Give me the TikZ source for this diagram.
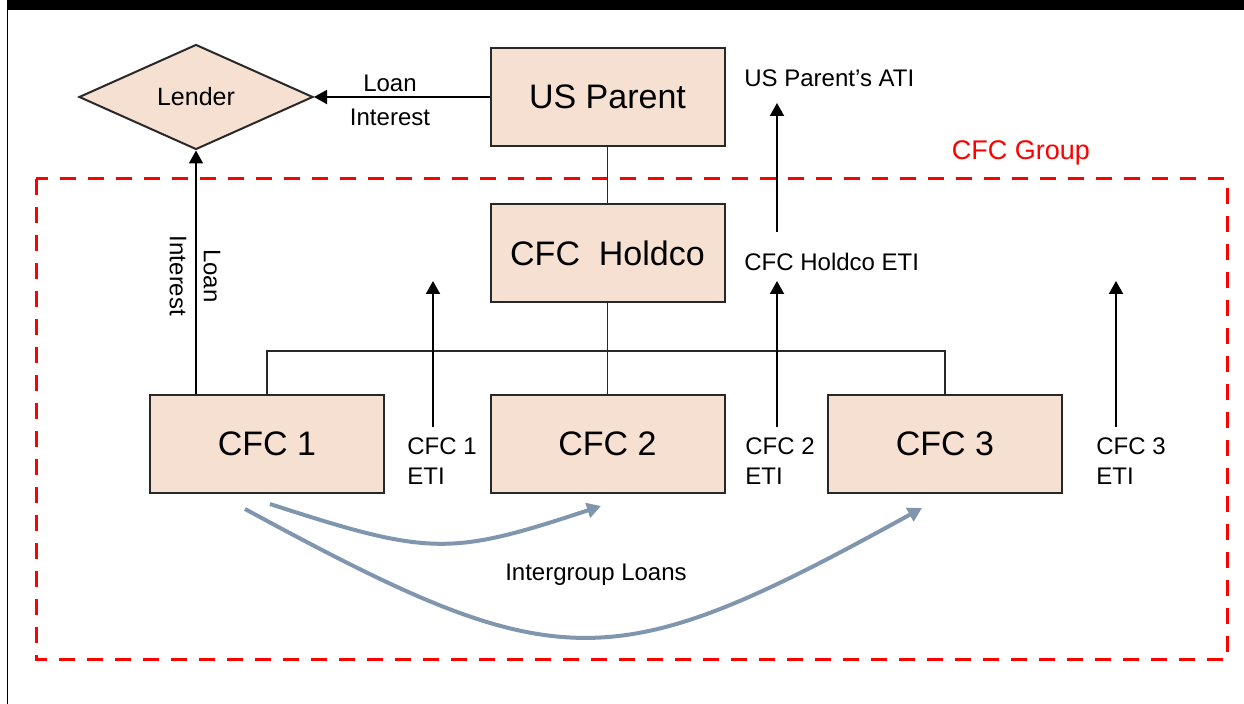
\documentclass[tikz,border=0pt]{standalone}
\usepackage{fontspec}
\setmainfont{Liberation Sans}
\usetikzlibrary{shapes.geometric,arrows.meta}
\definecolor{boxfill}{RGB}{246,224,209}
\definecolor{loanblue}{RGB}{127,150,174}
\definecolor{boxline}{RGB}{40,40,40}
\begin{document}
\begin{tikzpicture}[x=0.5pt,y=-0.5pt,
  ent/.style={draw=boxline, line width=1pt, fill=boxfill, minimum width=117pt, minimum height=49pt, inner sep=0pt, font=\fontsize{17}{20}\selectfont},
  lbl/.style={font=\fontsize{12}{15}\selectfont, inner sep=0pt},
  flow/.style={draw=black, line width=1pt, -{Triangle[width=7pt,length=6.5pt]}},
  tree/.style={draw=boxline, line width=0.75pt},
  loan/.style={draw=loanblue, line width=2pt, -{Triangle[width=7.5pt,length=7pt]}},
  group/.style={draw=red, line width=1.5pt, dash pattern=on 8pt off 6pt}]
\useasboundingbox (0,0) rectangle (1244,704);
% frame remnants
\fill[black] (7,0) rectangle (1244,10);
\draw[black, line width=0.8pt] (7.5,10) -- (7.5,704);
% CFC group boundary
\draw[group] (36,179) rectangle (1227,660);
\node[lbl, text=red, font=\fontsize{13.5}{16}\selectfont, anchor=base] (grp) at (1021,160) {CFC Group};
% entities
\node[ent] (us) at (607.5,97) {US Parent};
\node[ent] (hold) at (607.5,253) {CFC~ Holdco};
\node[ent] (c1) at (267,444) {CFC 1};
\node[ent] (c2) at (607.5,444) {CFC 2};
\node[ent] (c3) at (945,444) {CFC 3};
\node[diamond, draw=boxline, line width=1pt, fill=boxfill, minimum width=117pt, minimum height=52.5pt, inner sep=0pt, font=\fontsize{12.5}{15}\selectfont] (lender) at (196,97) {Lender};
% ownership tree
\coordinate (bus) at (607.5,351);
\draw[tree] (us.south) -- (hold.north);
\draw[tree] (hold.south) -- (c2.north);
\draw[tree] (c1.north) |- (bus) -| (c3.north);
% loan interest flows
\draw[flow] (us.west) -- (lender.east);
\node[lbl] (li1) at (390,83) {Loan};
\node[lbl] (li2) at (390,117) {Interest};
\draw[flow] (c1.north -| lender.south) -- (lender.south);
\node[lbl, rotate=-90] (lv1) at (212,276) {Loan};
\node[lbl, rotate=-90] (lv2) at (178,276) {Interest};
% ETI flows
\coordinate (e1s) at (433,427); \coordinate (e1t) at (433,281);
\coordinate (e2s) at (777,427); \coordinate (e2t) at (777,281);
\coordinate (e3s) at (1116,427); \coordinate (e3t) at (1116,281);
\coordinate (ehs) at (777,232); \coordinate (eht) at (777,103);
\draw[flow] (e1s) -- (e1t);
\draw[flow] (e2s) -- (e2t);
\draw[flow] (e3s) -- (e3t);
\draw[flow] (ehs) -- (eht);
\node[lbl, align=left, anchor=north west] (t1) at (407,437) {CFC 1\\ETI};
\node[lbl, align=left, anchor=north west] (t2) at (745,437) {CFC 2\\ETI};
\node[lbl, align=left, anchor=north west] (t3) at (1096,437) {CFC 3\\ETI};
\node[lbl, anchor=west] (th) at (744,262) {CFC Holdco ETI};
\node[lbl, anchor=west] (tu) at (744,78) {US Parent’s ATI};
% intergroup loans
\coordinate (a1s) at (270,504); \coordinate (a1e) at (601,506);
\coordinate (a2s) at (245,509); \coordinate (a2e) at (922,508);
\draw[loan] (a1s) .. controls (430,556) and (450,556) .. (a1e);
\draw[loan] (a2s) .. controls (560,680) and (610,680) .. (a2e);
\node[lbl, anchor=base] (ig) at (596,581) {Intergroup Loans};
\end{tikzpicture}
\end{document}
